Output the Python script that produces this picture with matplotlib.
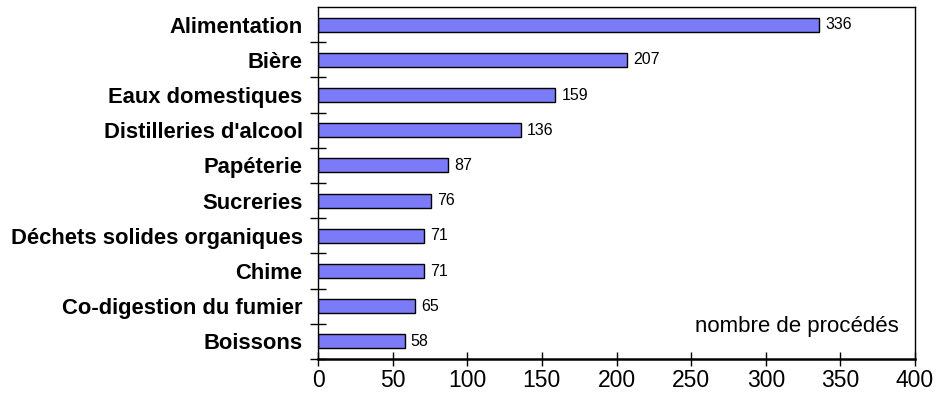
import numpy as np
import matplotlib.pyplot as plt
from matplotlib.ticker import FixedLocator

plt.rcParams['font.family'] = ['Liberation Sans', 'DejaVu Sans']

# ── Données ───────────────────────────────────────────────────
categories = ["Alimentation", "Bière", "Eaux domestiques", "Distilleries d'alcool",
              "Papéterie", "Sucreries", "Déchets solides organiques", "Chime",
              "Co-digestion du fumier", "Boissons"]
valeurs = [336, 207, 159, 136, 87, 76, 71, 71, 65, 58]
x_ticks = [0, 50, 100, 150, 200, 250, 300, 350, 400]

# ── Figure ────────────────────────────────────────────────────
fig = plt.figure(figsize=(9.38, 3.96), dpi=100)
ax = fig.add_axes([318 / 938, 37 / 396, 597 / 938, 352 / 396])

y = np.arange(len(categories))
ax.barh(y, valeurs, height=0.4, color="#7b7bf7", edgecolor="black", linewidth=1.0)

for yi, v in zip(y, valeurs):
    ax.text(v + 4, yi, str(v), va="center", ha="left", fontsize=11.5)

ax.set_xlim(0, 400)
ax.set_ylim(len(categories) - 0.5, -0.5)
ax.set_xticks(x_ticks)
ax.set_xticklabels([str(t) for t in x_ticks], fontsize=16.5)
ax.set_yticks(y)
ax.set_yticklabels(categories, fontsize=15.8, fontweight="bold")
ax.tick_params(axis="y", which="major", length=0, pad=11)
ax.tick_params(axis="x", direction="inout", length=10, width=1.0, pad=2)

# petits traits entre les catégories
ax.yaxis.set_minor_locator(FixedLocator(np.arange(len(categories)) + 0.5))
ax.tick_params(axis="y", which="minor", direction="inout", length=12, width=1.0)

for s in ax.spines.values():
    s.set_linewidth(1.0)
ax.spines["bottom"].set_linewidth(1.8)

ax.text(0.972, 0.091, "nombre de procédés", transform=ax.transAxes,
        ha="right", va="center", fontsize=16)

plt.savefig("out.png", dpi=100)
